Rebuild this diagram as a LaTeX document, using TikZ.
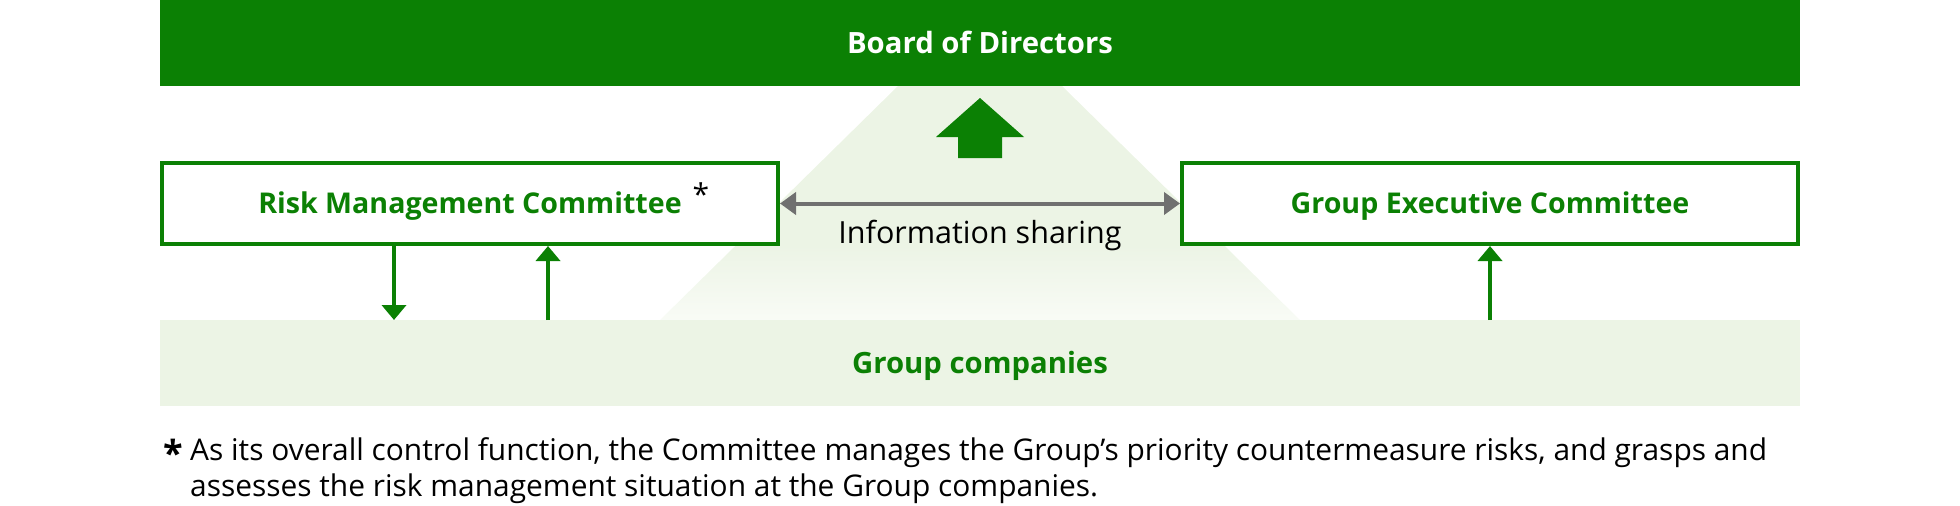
\documentclass[tikz,border=0pt]{standalone}
\usepackage{fontspec}
\setmainfont{Open Sans}
\usetikzlibrary{arrows.meta}

\definecolor{boardgreen}{RGB}{11,128,4}
\definecolor{palegreen}{RGB}{236,244,229}
\definecolor{sharegray}{RGB}{112,112,112}

% light pyramid behind the boxes, fading out towards the bottom
\pgfdeclareverticalshading{pyramidfade}{100bp}{color(0bp)=(white); color(25bp)=(white!65!palegreen); color(41bp)=(palegreen); color(100bp)=(palegreen)}

\tikzset{
  band/.style={minimum width=1640pt, minimum height=86pt, inner sep=0pt, outer sep=0pt,
    text height=20.5pt, text depth=0pt, font=\bfseries\fontsize{29.3}{32}\selectfont},
  box/.style={draw=boardgreen, line width=4pt, fill=white, minimum width=616pt, minimum height=81pt,
    text height=20.5pt, text depth=0pt, text=boardgreen, font=\bfseries\fontsize{28.6}{32}\selectfont},
  flow/.style={draw=boardgreen, line width=4pt, -{Triangle[length=15pt,width=24pt]}},
  share/.style={draw=sharegray, line width=4pt, {Triangle[length=16pt,width=22pt]}-{Triangle[length=16pt,width=22pt]}},
}

\begin{document}
\begin{tikzpicture}[x=1pt,y=-1pt]
  \useasboundingbox (0,0) rectangle (1960,506);

  \shade[shading=pyramidfade] (898,86) -- (1062,86) -- (1300,320) -- (660,320) -- cycle;

  \node[band, fill=boardgreen, text=white] (board) at (980,43) {Board of Directors};
  \node[band, fill=palegreen, text=boardgreen] (group) at (980,363) {Group companies};

  \node[box] (risk) at (470,203.5) {Risk Management Committee\rlap{\hspace{11pt}\raisebox{8pt}{\textcolor{black}{\mdseries\fontsize{30}{30}\selectfont *}}}};
  \node[box] (exec) at (1490,203.5) {Group Executive Committee};

  % report up to the board
  \fill[boardgreen] (980,98) -- (1024,137) -- (1002,137) -- (1002,158)
    -- (958,158) -- (958,137) -- (936,137) -- cycle;

  \draw[share] (risk) -- (exec);
  \node[anchor=base, font=\fontsize{30.5}{36}\selectfont] (sharing) at (980,243) {Information sharing};

  \draw[flow] ([xshift=-76pt]risk.south) -- ([xshift=-76pt]risk.south |- group.north);
  \draw[flow] ([xshift=78pt]risk.south |- group.north) -- ([xshift=78pt]risk.south);
  \draw[flow] (exec.south |- group.north) -- (exec.south);

  \node[anchor=base west, align=left, inner sep=0pt, font=\fontsize{29.9}{36}\selectfont] (note) at (190,496)
    {\llap{\raisebox{-6pt}{\bfseries\fontsize{36}{36}\selectfont *}\hspace{7pt}}As its overall control function, the Committee manages the Group's priority countermeasure risks, and grasps and\\
     assesses the risk management situation at the Group companies.};
\end{tikzpicture}
\end{document}
